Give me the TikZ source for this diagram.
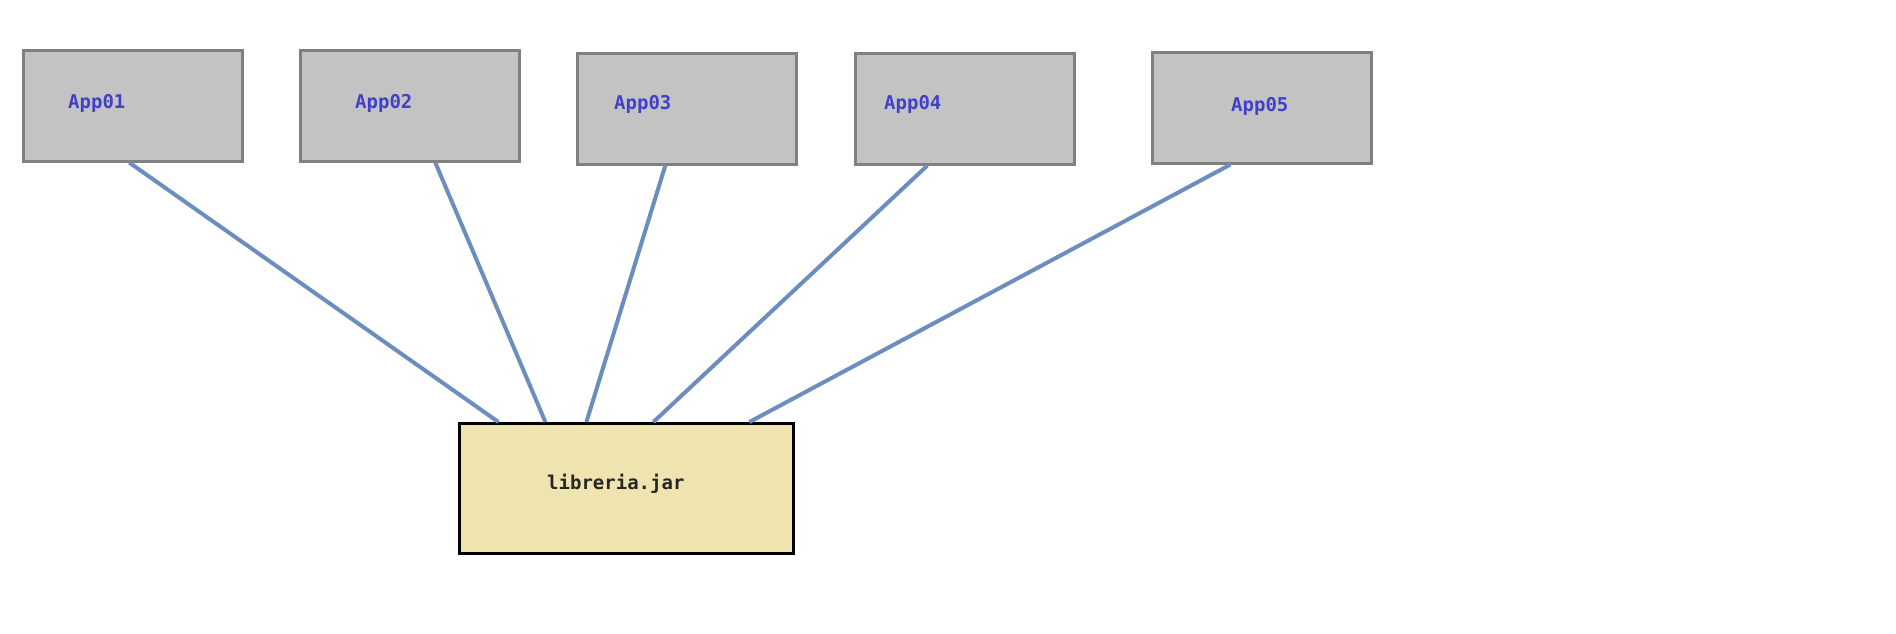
\documentclass[tikz,border=0pt]{standalone}
\usepackage{fontspec}
\newfontfamily\monof{DejaVu Sans Mono}
\begin{document}
\begin{tikzpicture}[x=1pt,y=-1pt,
  appbox/.style={draw=boxgray,fill=boxfill,line width=2.6pt,minimum width=219pt,minimum height=111pt,anchor=north west,inner sep=0pt},
  libbox/.style={draw=black,fill=libfill,line width=2.8pt,minimum width=334pt,minimum height=130pt,anchor=north west,inner sep=0pt},
  lbl/.style={text=lblblue,font=\monof\bfseries\fontsize{19}{22}\selectfont,inner sep=0pt},
  liblbl/.style={text=black!85,font=\monof\bfseries\fontsize{19}{22}\selectfont,inner sep=0pt},
  conn/.style={draw=linkblue,line width=4pt}]
\definecolor{boxgray}{HTML}{808080}
\definecolor{boxfill}{HTML}{C3C3C3}
\definecolor{libfill}{HTML}{EFE3B0}
\definecolor{lblblue}{HTML}{4040C8}
\definecolor{linkblue}{HTML}{6C8EBF}
\useasboundingbox (0,0) rectangle (1896,634);
\fill[white] (0,0) rectangle (1896,634);
\node[appbox] (a1) at (22,49) {};
\node[appbox] (a2) at (299,49) {};
\node[appbox] (a3) at (576,52) {};
\node[appbox] (a4) at (854,52) {};
\node[appbox] (a5) at (1151,51) {};
\node[libbox] (lib) at (458,422) {};
\draw[conn] ([xshift=-3.5pt]a1.south) -- ([xshift=-128pt]lib.north);
\draw[conn] ([xshift=25.5pt]a2.south) -- ([xshift=-81pt]lib.north);
\draw[conn] ([xshift=-21.5pt]a3.south) -- ([xshift=-40pt]lib.north);
\draw[conn] ([xshift=-37.5pt]a4.south) -- ([xshift=27pt]lib.north);
\draw[conn] ([xshift=-31.5pt]a5.south) -- ([xshift=123pt]lib.north);
\node[lbl,anchor=west] (t1) at (68,103) {App01};
\node[lbl,anchor=west] (t2) at (355,103) {App02};
\node[lbl,anchor=west] (t3) at (614,104) {App03};
\node[lbl,anchor=west] (t4) at (884,104) {App04};
\node[lbl,anchor=west] (t5) at (1231,106) {App05};
\node[liblbl,anchor=west] (tl) at (547,484) {libreria.jar};
\end{tikzpicture}
\end{document}
